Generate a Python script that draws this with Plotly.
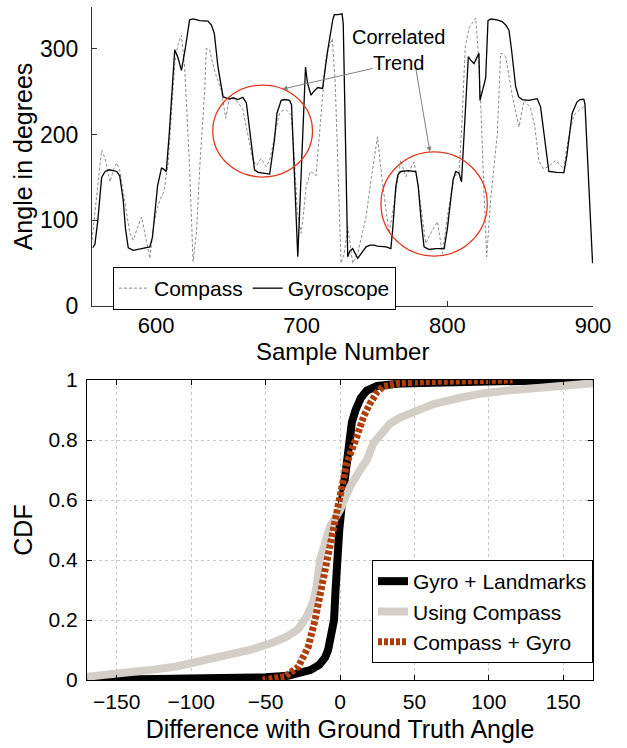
import plotly.graph_objects as go

# ---------------- Top chart data (Sample Number vs Angle) ----------------
gyro_x = [556.5, 558, 560, 562.6, 565, 568, 573, 575, 577.4, 579, 580.9, 584.3, 590, 595.7, 597.5, 599,
          601, 603.7, 605, 607, 609, 612.8, 615, 617.4, 620, 623, 625.4, 630, 635.6, 638, 640, 642.5,
          646, 650.5, 653, 656, 659.6, 662, 664, 667.6, 670, 673.3, 676, 678, 681.3, 683, 685.9, 688,
          691.6, 693, 697.3, 700, 702.6, 704, 706.4, 708, 711, 714.3, 716, 717.9, 721.3, 722.4, 725,
          727.7, 728.5, 731.6, 733, 735, 738.4, 741, 744.2, 747, 749.8, 752, 755.5, 758, 761.2, 762.5,
          764.6, 766, 768, 773, 778.3, 780, 782, 784, 787.5, 792, 797.8, 800, 802.3, 804, 805.8, 808,
          809.7, 812, 814.4, 816, 818.3, 820, 821.7, 822.4, 824, 826.3, 827.9, 830, 834, 837.7, 840,
          842.3, 844, 846.9, 849, 851.4, 856, 861.7, 864, 867, 869.7, 875, 880, 882, 885.7, 889, 891,
          893.7, 894.5, 899.7]
gyro_y = [68, 72, 100, 150, 157, 159, 157, 152, 124, 90, 68, 65, 67, 69, 80, 104,
          140, 161, 160, 157, 200, 299, 290, 275, 300, 334, 335, 333, 332.5, 328, 318, 279,
          244, 241.5, 243, 241, 243.5, 237, 210, 159, 156, 155, 154, 154, 194, 225, 240, 241,
          240, 235, 57.5, 170, 279, 260, 246, 250, 255, 254, 275, 299, 334, 340, 340,
          341, 330, 57.5, 64, 67, 55.6, 62, 69, 71, 71, 70, 69, 69, 67, 90,
          139, 153, 157, 158, 157, 140, 100, 69, 66, 67, 67, 90, 124, 148, 157, 155,
          145, 220, 291, 287, 283, 289, 295, 240, 250, 266, 333, 335, 334, 332, 328,
          322, 300, 256, 244, 241, 240, 242, 232.5, 190, 157, 156, 155.6, 175, 225, 238, 241,
          241.5, 235, 50]

compass_x = [556, 559, 562.6, 565, 568.3, 571, 573, 575, 577.5, 579.8, 582, 584.3, 587, 590, 592.3,
             595.7, 598, 600.3, 603, 605.3, 608.3, 610.5, 612.8, 615, 617.4, 619.6, 621.5, 623, 625.4,
             627.7, 630, 633.4, 634.5, 636.8, 638, 641, 644.8, 647.8, 650.5, 653, 655, 657, 659.6, 663,
             666.5, 669, 672, 675.6, 678, 680, 682, 684.8, 687, 689.4, 692.8, 695, 697, 699.6, 701, 703,
             706, 709.8, 712, 713.3, 715.6, 717, 719, 721, 723, 725, 727, 729, 731.6, 735, 738.4, 741,
             744.2, 747, 749.8, 752, 755.5, 758, 760, 762.5, 764.6, 768, 771.5, 774, 777.2, 780, 781.8,
             785.2, 788.6, 791, 793.2, 796.6, 800, 804.6, 808, 810, 812.3, 815, 819.5, 821, 822.8, 825,
             827, 829.7, 832, 834.3, 836.6, 838, 840, 844.5, 849.2, 852.6, 857, 860, 862.8, 866, 869.7,
             874.2, 877, 880, 883, 886.8, 890, 893.7]
compass_y = [77, 124, 182, 172, 145, 160, 167, 159, 130, 108, 85, 77, 90, 104, 85,
             55.6, 90, 112, 125, 133, 166.5, 230, 283, 305, 316, 279, 220, 162.5, 51.7,
             85, 162.5, 252, 300.7, 299, 289, 270, 252, 219, 244, 242, 240, 236, 229, 200,
             170, 164, 172, 162.5, 170, 186, 205, 225, 228, 229, 223, 170, 110, 85, 104, 139,
             157, 152, 197.5, 230, 271, 295, 303, 312, 260, 150, 50, 60, 92.5, 50, 61.5, 80,
             104, 140, 170, 197.5, 143, 110, 85, 110, 135, 170, 151, 158, 168, 140, 116,
             73, 85, 93, 98.5, 61.5, 104, 151, 155, 213, 303, 325, 336, 300, 240, 140,
             57.5, 124, 162.5, 201, 295, 294, 291, 246, 209, 240, 232, 210, 170, 160, 163,
             170, 165, 160, 195, 223, 228, 232.5]

top_xticks = [600, 700, 800, 900]
top_yticks = [0, 100, 200, 300]

# ---------------- Bottom chart data (CDF) ----------------
gyro_lm_x = [-170, -120, -80, -50, -35, -28, -20, -14, -10, -8, -6, -4, -3, -2, -0.5, 1.5, 3.5, 5.5,
             8, 10.5, 14, 18, 25, 40, 70, 120, 170]
gyro_lm_y = [0.0, 0.002, 0.005, 0.009, 0.014, 0.02, 0.033, 0.05, 0.075, 0.1, 0.15, 0.2, 0.3, 0.4,
             0.5, 0.6, 0.7, 0.8, 0.86, 0.9, 0.94, 0.965, 0.98, 0.988, 0.993, 0.997, 1.0]

compass_cdf_x = [-170, -150, -127.9, -110, -94.2, -75, -60.6, -45, -35.9, -28, -22.4, -18, -15.7,
                 -13.5, -10, -6.7, 0, 6.7, 13.5, 18, 22.4, 29, 33.6, 40.4, 50, 62.8, 80, 96.4, 115,
                 130, 150, 170]
compass_cdf_y = [0.011, 0.02, 0.033, 0.045, 0.061, 0.08, 0.10, 0.125, 0.144, 0.17, 0.211, 0.26, 0.311,
                 0.40, 0.46, 0.511, 0.567, 0.644, 0.70, 0.733, 0.789, 0.83, 0.855, 0.875, 0.895, 0.92,
                 0.94, 0.956, 0.966, 0.972, 0.98, 0.989]

fused_x = [-52, -45, -37, -28, -21.3, -16.8, -12.3, -7.9, -4.5, 0, 4.5, 11.2, 16, 20.2, 25, 29, 40,
           60, 116]
fused_y = [0.0, 0.004, 0.011, 0.044, 0.111, 0.2, 0.311, 0.422, 0.5, 0.611, 0.722, 0.81, 0.88, 0.922,
           0.96, 0.978, 0.99, 0.995, 1.0]

bot_xticks = [-150, -100, -50, 0, 50, 100, 150]
bot_xticklabels = ["\u2212150", "\u2212100", "\u221250", "0", "50", "100", "150"]
bot_yticks = [0, 0.2, 0.4, 0.6, 0.8, 1]
bot_yticklabels = ["0", "0.2", "0.4", "0.6", "0.8", "1"]

FONT = "Liberation Sans, Arial, Helvetica, sans-serif"
W, H = 627, 748

fig = go.Figure()

fig.add_trace(go.Scatter(x=compass_x, y=compass_y, mode="lines", name="Compass",
                         line=dict(color="#8c8c8c", width=1, dash="3px,2px"),
                         xaxis="x", yaxis="y", legend="legend"))
fig.add_trace(go.Scatter(x=gyro_x, y=gyro_y, mode="lines", name="Gyroscope",
                         line=dict(color="#000000", width=1.3),
                         xaxis="x", yaxis="y", legend="legend"))

fig.add_trace(go.Scatter(x=gyro_lm_x, y=gyro_lm_y, mode="lines", name="Gyro + Landmarks",
                         line=dict(color="#000000", width=8),
                         xaxis="x2", yaxis="y2", legend="legend2"))
fig.add_trace(go.Scatter(x=compass_cdf_x, y=compass_cdf_y, mode="lines", name="Using Compass",
                         line=dict(color="#d3cfc8", width=8),
                         xaxis="x2", yaxis="y2", legend="legend2"))
fig.add_trace(go.Scatter(x=fused_x, y=fused_y, mode="lines", name="Compass + Gyro",
                         line=dict(color="#ae3f0c", width=7, dash="4px,2px"),
                         xaxis="x2", yaxis="y2", legend="legend2"))

def px_x(p):
    return p / W

def px_y(p):
    return 1 - p / H

fig.update_layout(
    width=W, height=H,
    margin=dict(l=0, r=0, t=0, b=0),
    paper_bgcolor="white", plot_bgcolor="white",
    font=dict(family=FONT, color="black", size=20),
    xaxis=dict(domain=[px_x(92), px_x(593)], anchor="y", range=[556, 900], automargin=False,
               tickvals=top_xticks, ticks="inside", ticklen=5, tickcolor="#333",
               showline=True, linecolor="#333", linewidth=1, showgrid=False, zeroline=False,
               tickfont=dict(size=22), ticklabelstandoff=0),
    yaxis=dict(domain=[px_y(306), px_y(7)], anchor="x", range=[0, 349], automargin=False,
               tickvals=top_yticks, ticks="inside", ticklen=5, tickcolor="#333",
               showline=True, linecolor="#333", linewidth=1, showgrid=False, zeroline=False,
               tickfont=dict(size=23), ticklabelstandoff=8,
               title=dict(text="Angle in degrees", font=dict(size=25), standoff=0)),
    xaxis2=dict(domain=[px_x(87), px_x(593)], anchor="y2", range=[-170, 170], automargin=False,
                tickvals=bot_xticks, ticktext=bot_xticklabels, ticks="inside", ticklen=5,
                tickcolor="#000", showline=True, linecolor="#000", linewidth=1.3, mirror="ticks",
                showgrid=True, gridcolor="#c8c8c8", griddash="dot", gridwidth=1, zeroline=False,
                tickfont=dict(size=21), ticklabelstandoff=3,
                title=dict(text="Difference with Ground Truth Angle", font=dict(size=25), standoff=8)),
    yaxis2=dict(domain=[px_y(680), px_y(380)], anchor="x2", range=[0, 1], automargin=False,
                tickvals=bot_yticks, ticktext=bot_yticklabels, ticks="inside", ticklen=5,
                tickcolor="#000", showline=True, linecolor="#000", linewidth=1.3, mirror="ticks",
                showgrid=True, gridcolor="#c8c8c8", griddash="dot", gridwidth=1, zeroline=False,
                tickfont=dict(size=21), ticklabelstandoff=4,
                title=dict(text="CDF", font=dict(size=25), standoff=8)),
    legend=dict(orientation="h", x=px_x(113), y=px_y(267), xanchor="left", yanchor="top",
                bgcolor="white", bordercolor="black", borderwidth=1,
                font=dict(size=21), itemwidth=30, tracegroupgap=0),
    legend2=dict(orientation="v", x=px_x(593), y=px_y(560), xanchor="right", yanchor="top",
                 bgcolor="white", bordercolor="black", borderwidth=1,
                 font=dict(size=21), itemwidth=30, tracegroupgap=0),
    showlegend=True,
)

# Top x-axis title, placed tight under the tick labels as in the original
fig.add_annotation(x=0.5, xref="x domain", y=px_y(351), yref="paper", text="Sample Number",
                   showarrow=False, font=dict(size=24, color="black"), yanchor="middle")

# Highlight ellipses
fig.add_shape(type="circle", xref="x", yref="y", x0=638.9, x1=707.4, y0=150.5, y1=257.9,
              line=dict(color="#e0391e", width=1.3))
fig.add_shape(type="circle", xref="x", yref="y", x0=754.4, x1=827.4, y0=58.3, y1=180,
              line=dict(color="#e0391e", width=1.3))

# Callout text and arrows
fig.add_annotation(x=766.3, y=298.7, xref="x", yref="y", text="Correlated<br>Trend",
                   showarrow=False, font=dict(size=20, color="black"), align="center")
fig.add_annotation(x=686.8, y=253.2, xref="x", yref="y", ax=749.8, ay=277.7, axref="x", ayref="y",
                   text="", showarrow=True, arrowhead=2, arrowsize=1, arrowwidth=1,
                   arrowcolor="#808080")
fig.add_annotation(x=788, y=180, xref="x", yref="y", ax=778.3, ay=277.7, axref="x", ayref="y",
                   text="", showarrow=True, arrowhead=2, arrowsize=1, arrowwidth=1,
                   arrowcolor="#808080")

fig.write_html("out.html", config={"displayModeBar": False},
               post_script="document.body.style.margin='0';")
